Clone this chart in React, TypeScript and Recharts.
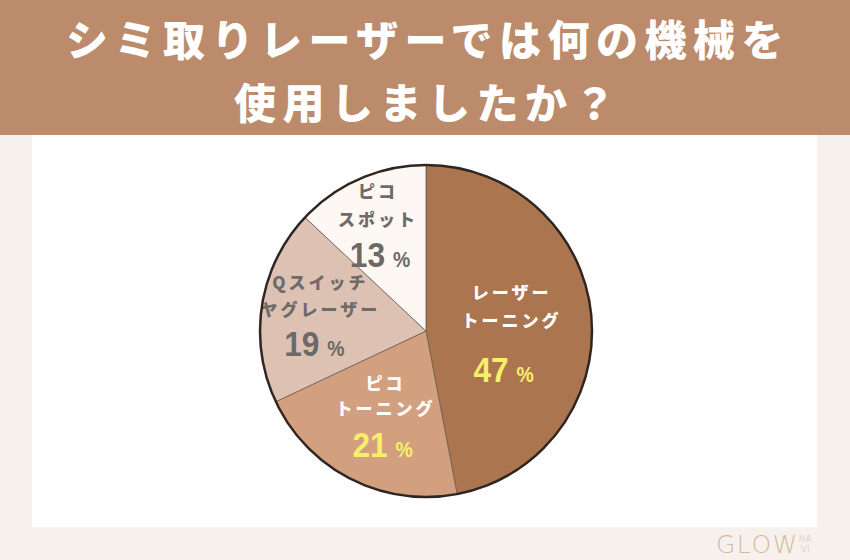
import { PieChart, Pie, Cell } from 'recharts';

// Survey answer shares, clockwise from 12 o'clock
const machines = ['レーザートーニング', 'ピコトーニング', 'Qスイッチヤグレーザー', 'ピコスポット'];
const labelLines = [
  ['レーザー', 'トーニング'],
  ['ピコ', 'トーニング'],
  ['Qスイッチ', 'ヤグレーザー'],
  ['ピコ', 'スポット'],
];
const shares = [47, 21, 19, 13];

const sliceColors = ['#ab764f', '#d3a07f', '#ddc2b4', '#fdf8f3'];
const textColors = ['#ffffff', '#ffffff', '#6f6b69', '#6f6b69'];
const numberColors = ['#f6ef6a', '#f6ef6a', '#6d6967', '#6d6967'];

// label placement tweaks (radius from centre, nudges, line gaps)
const labelRadius = [86, 89, 107, 121];
const labelNudge = [-3, -3, -6, -1];
const lineGap = [28, 25, 27, 28];
const numberGap = [49, 37, 35, 35];
const numberShiftX = [-8, -3, -6, 2];

const CX = 426;
const CY = 331;
const R = 166;
const RAD = Math.PI / 180;

const chartData = machines.map((name, i) => ({ name, value: shares[i] }));

const jpFont = '"Noto Sans CJK JP", "Noto Sans", sans-serif';
const numFont = '"Liberation Sans", "Roboto", sans-serif';

function SliceLabel(props: any) {
  const { cx, cy, midAngle, index, value } = props;
  const r = labelRadius[index];
  const x = cx + r * Math.cos(-midAngle * RAD);
  const y = cy + r * Math.sin(-midAngle * RAD) + labelNudge[index];
  const [l1, l2] = labelLines[index];
  const numY = y + numberGap[index];
  const numX = x + numberShiftX[index];
  return (
    <g>
      <text x={x} y={y - lineGap[index]} textAnchor="middle" dominantBaseline="central"
        fill={textColors[index]} fontFamily={jpFont} fontWeight={900} fontSize={17} letterSpacing={3}>
        {l1}
      </text>
      <text x={x} y={y} textAnchor="middle" dominantBaseline="central"
        fill={textColors[index]} fontFamily={jpFont} fontWeight={900} fontSize={17} letterSpacing={3}>
        {l2}
      </text>
      <text transform={`translate(${numX},${numY + 13}) scale(0.88,1)`} x={0} y={0} textAnchor="middle"
        fill={numberColors[index]} fontFamily={numFont} fontWeight={700}>
        <tspan fontSize={36}>{value}</tspan>
        <tspan fontSize={22} dx={9}>%</tspan>
      </text>
    </g>
  );
}

export default function App() {
  return (
    <div style={{ position: 'absolute', left: 0, top: 0, width: 850, height: 560, background: '#f7f1ee', overflow: 'hidden' }}>
      {/* title band */}
      <div style={{
        position: 'absolute', left: 0, top: 0, width: 850, height: 135, background: '#bb8b6c',
        color: '#fff', fontFamily: jpFont, fontWeight: 900, fontSize: 42, letterSpacing: 6.5,
        textAlign: 'center', lineHeight: '63px', paddingTop: 6, paddingLeft: 6, boxSizing: 'border-box',
      }}>
        <div>シミ取りレーザーでは何の機械を</div>
        <div>使用しましたか？</div>
      </div>

      {/* white panel */}
      <div style={{ position: 'absolute', left: 32, top: 135, width: 785, height: 392, background: '#fffefe' }} />

      <div style={{ position: 'absolute', left: 0, top: 0 }}>
        <PieChart width={850} height={560} margin={{ top: 0, right: 0, bottom: 0, left: 0 }}>
          <Pie
            data={chartData}
            dataKey="value"
            nameKey="name"
            cx={CX}
            cy={CY}
            outerRadius={R}
            startAngle={90}
            endAngle={-270}
            stroke="#6b5a4f"
            strokeWidth={0.8}
            label={SliceLabel}
            labelLine={false}
            isAnimationActive={false}
          >
            {chartData.map((d, i) => (
              <Cell key={d.name} fill={sliceColors[i]} />
            ))}
          </Pie>
        </PieChart>
      </div>

      {/* outer ring */}
      <svg width={850} height={560} style={{ position: 'absolute', left: 0, top: 0, pointerEvents: 'none' }}>
        <circle cx={CX} cy={CY} r={R} fill="none" stroke="#2f2622" strokeWidth={2.5} />
      </svg>

      {/* logo */}
      <div style={{
        position: 'absolute', left: 716, top: 532, fontFamily: '"DejaVu Sans", sans-serif', fontSize: 25,
        lineHeight: '25px', color: '#d8b89c', letterSpacing: 1.5, fontWeight: 200,
      }}>
        GLOW<span style={{ display: 'inline-block', fontSize: 9, lineHeight: '10px', letterSpacing: 0, verticalAlign: 'top', marginTop: 2, textAlign: 'center' }}>NA<br />VI</span>
      </div>
    </div>
  );
}
